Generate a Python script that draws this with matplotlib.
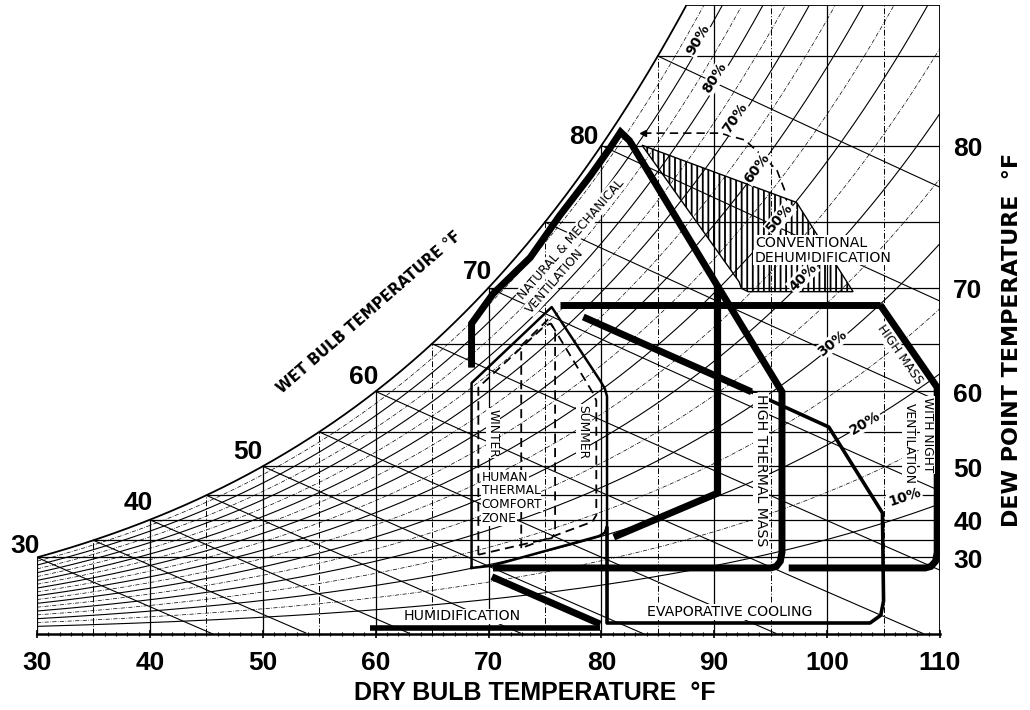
import numpy as np
import matplotlib
matplotlib.use("Agg")
import matplotlib.pyplot as plt
from matplotlib.patches import Polygon
import matplotlib.transforms as mtrans

# ---------------- data (dry bulb degF, humidity ratio g/kg) ----------------
db_ticks = [30, 40, 50, 60, 70, 80, 90, 100, 110]
dp_ticks = [30, 40, 50, 60, 70, 80]
grid_db = list(range(30, 111, 5))
grid_dp = list(range(30, 86, 5))
grid_wb = list(range(30, 86, 5))
rh_main = [10, 20, 30, 40, 50, 60, 70, 80, 90]
rh_minor = [15, 25, 35, 45, 55, 65, 75, 85, 95]
W_TOP = 28.57

wb_label_text = ["30", "40", "50", "60", "70", "80"]
wb_label_T = [28.9, 38.95, 48.7, 58.9, 69.0, 78.4]
wb_label_W = [4.0, 5.95, 8.27, 11.67, 16.44, 22.57]

rh_label_vals = [90, 80, 70, 60, 50, 40, 30, 20, 10]
rh_label_T = [88.55, 90.05, 91.82, 93.77, 95.81, 97.85, 100.5, 103.34, 106.88]
rh_label_W = [26.98, 25.25, 23.43, 21.16, 18.89, 16.21, 13.22, 9.58, 6.22]

vent_T = [68.5, 68.5, 70.4, 73.7, 76.3, 79.0, 80.8, 81.7, 82.5, 90.3, 90.3, 81.1]
vent_W = [12.1, 14.1, 15.45, 17.1, 19.0, 20.8, 22.1, 22.8, 22.4, 15.8, 6.4, 4.4]

htm_T = [90.3, 96.0, 96.0, 95.85, 95.5, 95.0, 70.4]
htm_W = [15.8, 11.0, 3.7, 3.3, 3.07, 3.0, 3.0]

top_T = [76.3, 104.7]
top_W = [14.95, 14.95]

nv_T = [104.7, 109.75, 109.75, 109.6, 109.2, 108.7, 96.6]
nv_W = [14.95, 11.2, 3.7, 3.3, 3.07, 3.0, 3.0]

evap_thick_T = [78.4, 93.3]
evap_thick_W = [14.4, 11.0]
evap_T = [93.3, 100.15, 104.9, 105.0, 104.75, 103.8, 80.5, 80.5]
evap_W = [11.0, 9.4, 5.5, 1.5, 0.85, 0.5, 0.5, 4.8]

humid_diag_T = [70.3, 79.9]
humid_diag_W = [2.6, 0.45]
humid_bot_T = [59.5, 79.9]
humid_bot_W = [0.27, 0.27]

comfort_T = [68.5, 68.5, 75.6, 79.9, 80.3, 80.5, 80.5, 80.3, 79.8, 70.3, 68.5]
comfort_W = [3.0, 11.4, 14.85, 11.5, 11.15, 10.8, 4.9, 4.6, 4.45, 3.1, 3.0]

winter_T = [69.1, 69.1, 75.0, 75.5, 75.9, 75.9, 75.6, 75.0, 69.1]
winter_W = [3.6, 11.2, 14.0, 14.1, 13.8, 4.6, 4.35, 4.3, 3.6]

summer_T = [72.9, 72.9, 75.3, 79.25, 79.55, 79.55, 79.2, 72.9]
summer_W = [3.9, 13.1, 14.3, 10.95, 10.6, 5.4, 5.1, 3.9]

dehum_T = [83.6, 97.3, 102.3, 93.0, 92.4, 92.2, 83.6]
dehum_W = [22.2, 19.6, 15.55, 15.55, 15.7, 16.0, 22.2]

arc_T = [83.7, 90.5, 92.7, 94.2, 95.55, 96.4]
arc_W = [22.75, 22.75, 22.44, 21.75, 21.07, 19.94]


# ---------------- psychrometrics for the chart grid ----------------
def ws(tf):
    tc = (np.asarray(tf, float) - 32.0) / 1.8
    es = 0.61094 * np.exp(17.625 * tc / (tc + 243.04))
    return 622.0 * es / (101.325 - es)


def wb_line(twb, tf):
    tc = (np.asarray(tf, float) - 32.0) / 1.8
    twc = (twb - 32.0) / 1.8
    w = ((2501 - 2.326 * twc) * ws(twb) / 1000.0 - 1.006 * (tc - twc)) / (2501 + 1.86 * tc - 4.186 * twc)
    return w * 1000.0


NUM = "Liberation Sans"
PLAIN = "DejaVu Sans"

fig = plt.figure(figsize=(10.30, 7.10), dpi=100)
ax = fig.add_axes([37 / 1030, (710 - 634) / 710, (940 - 37) / 1030, (634 - 5) / 710])
ax.set_xlim(30, 110)
ax.set_ylim(0, W_TOP)
for s in ["left", "right", "top"]:
    ax.spines[s].set_visible(False)
ax.spines["bottom"].set_linewidth(1.8)
ax.set_yticks([])
ax.set_xticks(db_ticks)
ax.set_xticks(np.arange(30, 111, 1), minor=True)
ax.set_xticklabels([str(v) for v in db_ticks], fontfamily=NUM, fontweight="bold", fontsize=19)
ax.tick_params(axis="x", which="major", length=6, width=1.2, direction="inout", pad=9)
ax.tick_params(axis="x", which="minor", length=3, width=0.8, direction="inout")

K = "black"
GL = 0.9

# saturation curve
tt = np.linspace(30, 110, 800)
wsat = ws(tt)
m = wsat <= W_TOP
ax.plot(tt[m], wsat[m], color=K, lw=1.3, zorder=2)
t_top = tt[m][-1]
ax.plot([t_top, 110], [W_TOP, W_TOP], color=K, lw=1.3, zorder=2)
ax.plot([110, 110], [0, W_TOP], color=K, lw=1.3, zorder=2)

# vertical dry bulb lines
for t in grid_db:
    top = min(ws(t), W_TOP)
    if t % 10 == 0:
        ax.plot([t, t], [0, top], color=K, lw=GL, zorder=1)
    else:
        ax.plot([t, t], [0, top], color=K, lw=0.7, ls=(0, (6, 2, 1, 2)), zorder=1)

# horizontal dew point lines
for d in grid_dp:
    w = float(ws(d))
    ax.plot([d, 110], [w, w], color=K, lw=GL, zorder=1)

# relative humidity curves
for rh in rh_main:
    w = wsat * rh / 100.0
    mm = w <= W_TOP
    ax.plot(tt[mm], w[mm], color=K, lw=0.8, zorder=1)
for rh in rh_minor:
    w = wsat * rh / 100.0
    mm = w <= W_TOP
    ax.plot(tt[mm], w[mm], color=K, lw=0.5, ls=(0, (6, 2, 1, 2)), zorder=1)

# wet bulb lines
for twb in grid_wb:
    t2 = np.linspace(twb, 110, 300)
    w2 = wb_line(twb, t2)
    mm = (w2 >= 0) & (w2 <= W_TOP)
    ax.plot(t2[mm], w2[mm], color=K, lw=0.8, zorder=1)

# ---------------- zones ----------------
thick = dict(color=K, lw=5, solid_joinstyle="miter", solid_capstyle="butt", zorder=5)
ax.plot(vent_T, vent_W, **thick)
ax.plot(htm_T, htm_W, **thick)
ax.plot(top_T, top_W, **thick)
ax.plot(nv_T, nv_W, **thick)
ax.plot(evap_thick_T, evap_thick_W, **thick)
ax.plot(humid_diag_T, humid_diag_W, **thick)
ax.plot(humid_bot_T, humid_bot_W, color=K, lw=4, solid_capstyle="butt", zorder=5)
ax.plot(evap_T, evap_W, color=K, lw=2.6, solid_joinstyle="round", zorder=4)
ax.plot(comfort_T, comfort_W, color=K, lw=1.8, solid_joinstyle="round", zorder=4)
ax.plot(winter_T, winter_W, color=K, lw=1.3, ls=(0, (5, 3)), zorder=4)
ax.plot(summer_T, summer_W, color=K, lw=1.3, ls=(0, (5, 3)), zorder=4)
plt.rcParams["hatch.linewidth"] = 1.3
ax.add_patch(Polygon(np.column_stack([dehum_T, dehum_W]), closed=True, facecolor="none",
                     edgecolor=K, lw=1.0, hatch="|||", zorder=3))
ax.plot(arc_T, arc_W, color=K, lw=1.2, ls=(0, (5, 3)), zorder=4)
ax.plot([arc_T[0]], [arc_W[0]], marker="<", color=K, ms=5, zorder=4)

# ---------------- texts ----------------
box = dict(facecolor="white", edgecolor="none", pad=0.6)
inner = dict(fontfamily=PLAIN, fontsize=8.8, color=K, zorder=6)
wide = dict(fontfamily=PLAIN, fontsize=10.2, color=K, zorder=6)

ax.text(77.3, 17.94, "NATURAL & MECHANICAL", rotation=49, ha="center", va="center", bbox=box, **inner)
ax.text(75.88, 16.03, "VENTILATION", rotation=49, ha="center", va="center", bbox=box, **inner)
ax.text(98.6, 17.76, "CONVENTIONAL", ha="center", va="center", bbox=box, **wide)
ax.text(99.6, 17.1, "DEHUMIDIFICATION", ha="center", va="center", bbox=box, **wide)
ax.text(94.13, 7.45, "HIGH THERMAL MASS", rotation=-90, ha="center", va="center", bbox=box, **wide)
ax.text(106.4, 12.7, "HIGH MASS", rotation=-55, ha="center", va="center", bbox=box, **inner)
ax.text(108.9, 9.04, "WITH NIGHT", rotation=-90, ha="center", va="center", bbox=box, **inner)
ax.text(107.3, 8.67, "VENTILATION", rotation=-90, ha="center", va="center", bbox=box, **inner)
ax.text(70.4, 9.13, "WINTER", rotation=-90, ha="center", va="center", bbox=box, **inner)
ax.text(78.36, 9.17, "SUMMER", rotation=-90, ha="center", va="center", bbox=box, **inner)
for txt, w in zip(["HUMAN", "THERMAL", "COMFORT", "ZONE"], [7.13, 6.5, 5.86, 5.25]):
    ax.text(69.4, w, txt, ha="left", va="center", bbox=box, **inner)
ax.text(67.64, 0.8, "HUMIDIFICATION", ha="center", va="center", bbox=box, **wide)
ax.text(91.38, 1.0, "EVAPORATIVE COOLING", ha="center", va="center", bbox=box, **wide)

# relative humidity labels, rotated along their curves
for rh, t, w in zip(rh_label_vals, rh_label_T, rh_label_W):
    p1 = ax.transData.transform((t - 0.5, rh * ws(t - 0.5) / 100))
    p2 = ax.transData.transform((t + 0.5, rh * ws(t + 0.5) / 100))
    ang = np.degrees(np.arctan2(p2[1] - p1[1], p2[0] - p1[0]))
    ax.text(t, w, f"{rh}%", rotation=ang, ha="center", va="center", fontfamily=PLAIN,
            fontsize=10, fontweight="bold", bbox=box, zorder=6)

# wet bulb labels
for txt, t, w in zip(wb_label_text, wb_label_T, wb_label_W):
    ax.text(t, w, txt, ha="center", va="center", fontfamily=NUM, fontweight="bold",
            fontsize=19, clip_on=False, zorder=6)
ax.text(59.4, 14.6, "WET BULB TEMPERATURE °F", rotation=41, ha="center", va="center",
        fontfamily=PLAIN, fontweight="bold", fontsize=10.8, clip_on=False)

# dew point labels on the right
bl = mtrans.blended_transform_factory(ax.transAxes, ax.transData)
for d in dp_ticks:
    ax.text(1.031, float(ws(d)) - 0.15, str(d), transform=bl, ha="center", va="center",
            fontfamily=NUM, fontweight="bold", fontsize=19, clip_on=False)
fig.text(1012 / 1030, 1 - 340 / 710, "DEW POINT TEMPERATURE  °F", rotation=90, ha="center",
         va="center", fontfamily=PLAIN, fontweight="bold", fontsize=16)
fig.text(535 / 1030, 1 - 693 / 710, "DRY BULB TEMPERATURE  °F", ha="center", va="center",
         fontfamily=NUM, fontweight="bold", fontsize=18)

fig.savefig("out.png", dpi=100, facecolor="white")
